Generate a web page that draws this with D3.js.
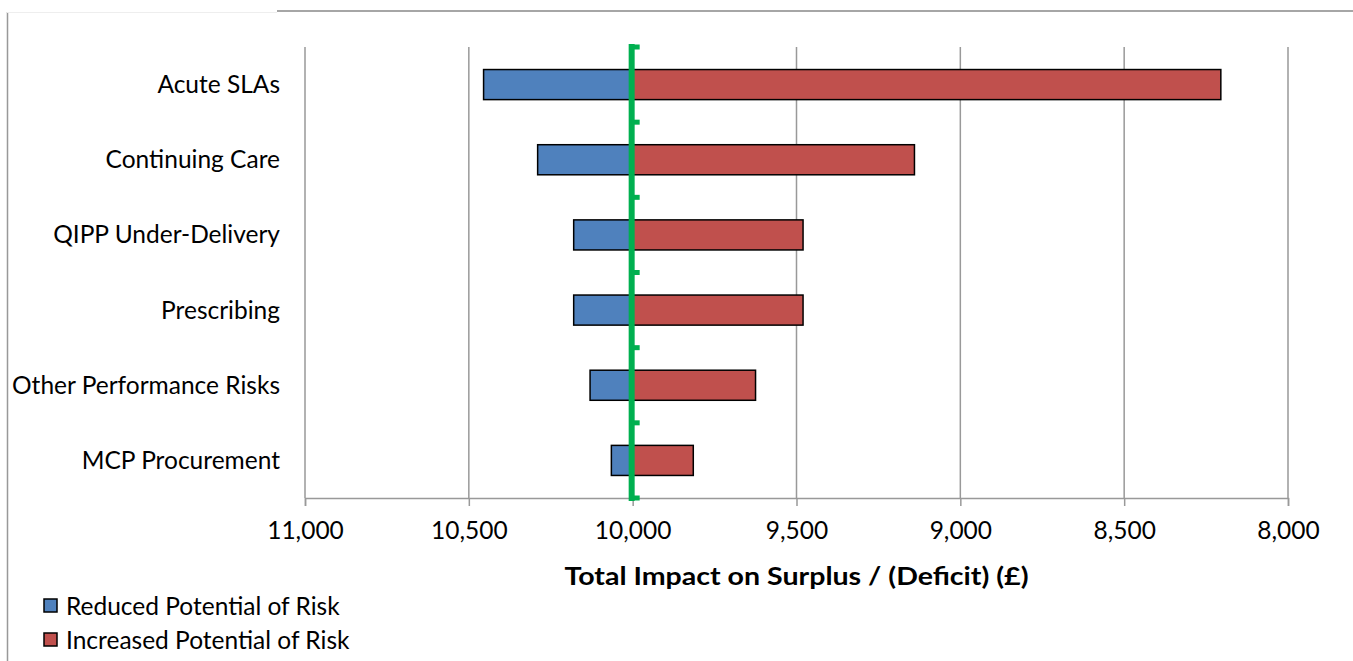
<!DOCTYPE html>
<html>
<head>
<meta charset="utf-8">
<script src="https://cdn.jsdelivr.net/npm/d3@7"></script>
<style>
  body { margin: 0; background: #fff; }
  text { font-family: Lato, "Open Sans", sans-serif; fill: #000; }
</style>
</head>
<body>
<div id="chart"></div>
<script>
// tornado chart - risk sensitivity

var categories = ["Acute SLAs", "Continuing Care", "QIPP Under-Delivery", "Prescribing", "Other Performance Risks", "MCP Procurement"];
var reducedRisk = [10455, 10290, 10180, 10180, 10130, 10065];
var increasedRisk = [8205, 9140, 9480, 9480, 9625, 9815];
var baseValue = 10000;
var xTicks = [11000, 10500, 10000, 9500, 9000, 8500, 8000];
var seriesNames = ["Reduced Potential of Risk", "Increased Potential of Risk"];
var seriesColors = ["#4F81BD", "#C0504D"];

var svgWidth = 1353;
var svgHeight = 661;

var margin = { top: 47, right: 65, bottom: 163, left: 305 };
var width = svgWidth - margin.left - margin.right;
var height = svgHeight - margin.top - margin.bottom;

var svg = d3.select("#chart")
  .append("svg")
  .attr("width", svgWidth)
  .attr("height", svgHeight);

// outer frame bits
svg.append("line")
  .attr("x1", 7.5).attr("x2", 7.5).attr("y1", 12).attr("y2", svgHeight)
  .attr("stroke", "#999").attr("stroke-width", 1.5);
svg.append("line")
  .attr("x1", 277).attr("x2", svgWidth).attr("y1", 11).attr("y2", 11)
  .attr("stroke", "#888").attr("stroke-width", 1.5);
svg.append("line")
  .attr("x1", 7).attr("x2", 277).attr("y1", 12.5).attr("y2", 12.5)
  .attr("stroke", "#eee").attr("stroke-width", 1);

var chartGroup = svg.append("g")
  .attr("transform", `translate(${margin.left}, ${margin.top})`);

// reversed value axis: 11,000 on the left
var xScale = d3.scaleLinear()
  .domain([xTicks[0], xTicks[xTicks.length - 1]])
  .range([0, width]);

var yScale = d3.scaleBand()
  .domain(categories)
  .range([0, height])
  .paddingInner(0.6)
  .paddingOuter(0.3);

// gridlines
chartGroup.append("g")
  .selectAll("line")
  .data(xTicks)
  .enter()
  .append("line")
  .attr("x1", d => xScale(d)).attr("x2", d => xScale(d))
  .attr("y1", 0).attr("y2", height)
  .attr("stroke", "#999").attr("stroke-width", 1.5);

// bottom axis
var bottomAxis = d3.axisBottom(xScale)
  .tickValues(xTicks)
  .tickSize(8)
  .tickPadding(16)
  .tickFormat(d3.format(","));

var xAxis = chartGroup.append("g")
  .attr("transform", `translate(0, ${height})`)
  .call(bottomAxis);
xAxis.select(".domain").attr("stroke", "#999").attr("stroke-width", 1.5);
xAxis.selectAll(".tick line").attr("stroke", "#999").attr("stroke-width", 1.5);
xAxis.selectAll("text")
  .style("font-size", "24.5px")
  .style("font-family", "Lato, sans-serif")
  .attr("fill", "#000");

// category labels
chartGroup.append("g")
  .selectAll("text")
  .data(categories)
  .enter()
  .append("text")
  .attr("x", -25)
  .attr("y", d => yScale(d) + yScale.bandwidth() / 2)
  .attr("dy", "0.35em")
  .attr("text-anchor", "end")
  .style("font-size", "24.5px")
  .text(d => d);

// reduced risk bars (left side)
chartGroup.append("g")
  .selectAll("rect")
  .data(categories)
  .enter()
  .append("rect")
  .attr("x", (d, i) => xScale(reducedRisk[i]))
  .attr("y", d => yScale(d))
  .attr("width", (d, i) => xScale(baseValue) - xScale(reducedRisk[i]))
  .attr("height", yScale.bandwidth())
  .attr("fill", seriesColors[0])
  .attr("stroke", "#000")
  .attr("stroke-width", 1.5);

// increased risk bars (right side)
chartGroup.append("g")
  .selectAll("rect")
  .data(categories)
  .enter()
  .append("rect")
  .attr("x", xScale(baseValue))
  .attr("y", d => yScale(d))
  .attr("width", (d, i) => xScale(increasedRisk[i]) - xScale(baseValue))
  .attr("height", yScale.bandwidth())
  .attr("fill", seriesColors[1])
  .attr("stroke", "#000")
  .attr("stroke-width", 1.5);

// base line (green) with little tick marks at band boundaries
var boundaries = d3.range(categories.length + 1).map(i => i * height / categories.length);
var xBase = xScale(baseValue) - 1;

chartGroup.append("line")
  .attr("x1", xBase).attr("x2", xBase)
  .attr("y1", -3).attr("y2", height + 3)
  .attr("stroke", "#00B050").attr("stroke-width", 6);

chartGroup.append("g")
  .selectAll("rect")
  .data(boundaries)
  .enter()
  .append("rect")
  .attr("x", xBase)
  .attr("y", d => d - 2.5)
  .attr("width", 8)
  .attr("height", 5)
  .attr("fill", "#00B050");

// axis title
chartGroup.append("text")
  .attr("x", width / 2)
  .attr("y", height + 87)
  .attr("text-anchor", "middle")
  .attr("textLength", 464)
  .attr("lengthAdjust", "spacingAndGlyphs")
  .style("font-size", "24px")
  .style("font-weight", "bold")
  .text("Total Impact on Surplus / (Deficit) (£)");

// legend
var legend = svg.append("g")
  .selectAll("g")
  .data(seriesNames)
  .enter()
  .append("g")
  .attr("transform", (d, i) => `translate(44, ${599 + i * 34})`);

legend.append("rect")
  .attr("width", 13).attr("height", 13)
  .attr("fill", (d, i) => seriesColors[i])
  .attr("stroke", "#000").attr("stroke-width", 1.5);

legend.append("text")
  .attr("x", 22)
  .attr("y", 7)
  .attr("dy", "0.35em")
  .style("font-size", "24.5px")
  .text(d => d);
</script>
</body>
</html>
